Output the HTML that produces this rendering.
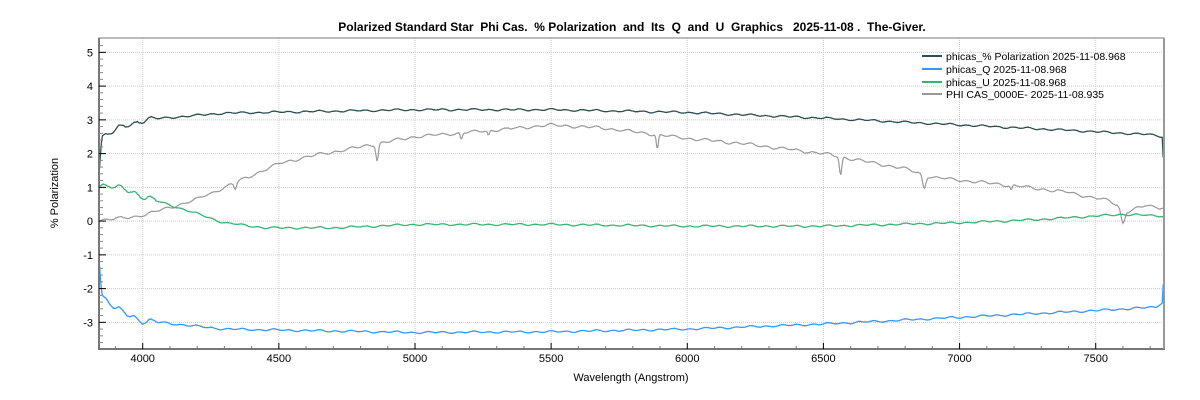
<!DOCTYPE html>
<html><head><meta charset="utf-8"><style>
html,body{margin:0;padding:0;background:#fff;width:1200px;height:400px;overflow:hidden}
svg{display:block;font-family:"Liberation Sans",sans-serif}
</style></head><body>
<svg id="s" width="1200" height="400" viewBox="0 0 1200 400">
<rect width="1200" height="400" fill="#fff"/>
<text x="632" y="31" font-size="12" font-weight="bold" text-anchor="middle" fill="#000" xml:space="preserve" style="white-space:pre">Polarized Standard Star  Phi Cas.  % Polarization  and  Its  Q  and  U  Graphics   2025-11-08 .  The-Giver.</text>
<g id="grid"></g>
<g id="series"></g>
<rect x="99" y="38" width="1065" height="310.5" fill="none" stroke="#777" stroke-width="1"/>
<line x1="99" y1="38" x2="99" y2="349" stroke="#777" stroke-width="2"/>
<line x1="98" y1="349" x2="1165" y2="349" stroke="#777" stroke-width="2"/>
<line x1="1164" y1="38" x2="1164" y2="349" stroke="#999" stroke-width="2"/>
<g id="ticks"></g>
<text x="58" y="193" font-size="11" text-anchor="middle" transform="rotate(-90 58 193)" fill="#000">% Polarization</text>
<text x="631" y="381" font-size="11" text-anchor="middle" fill="#000">Wavelength (Angstrom)</text>
<g font-size="10.5" fill="#000" style="white-space:pre">
<line x1="922" y1="56" x2="942" y2="56" stroke="#2f4f4f" stroke-width="2"/><text x="946" y="60">phicas_% Polarization  2025-11-08.968</text>
<line x1="922" y1="69" x2="942" y2="69" stroke="#3399ff" stroke-width="2"/><text x="946" y="73">phicas_Q  2025-11-08.968</text>
<line x1="922" y1="82" x2="942" y2="82" stroke="#3cb371" stroke-width="2"/><text x="946" y="86">phicas_U  2025-11-08.968</text>
<line x1="922" y1="94" x2="942" y2="94" stroke="#999" stroke-width="2"/><text x="946" y="98">PHI CAS_0000E-  2025-11-08.935</text>
</g>
</svg>
<script>
var NS="http://www.w3.org/2000/svg";
function X(w){return 142.7+(w-4000)*0.27229;}
function Y(v){return 221.1-33.75*v;}
function el(p,t,a,txt){var e=document.createElementNS(NS,t);for(var k in a)e.setAttribute(k,a[k]);if(txt!=null)e.textContent=txt;document.getElementById(p).appendChild(e);}
for(var w=4000;w<=7500;w+=500){var x=X(w);el("grid","line",{x1:x,y1:38,x2:x,y2:348,stroke:"#ccc","stroke-dasharray":"1,1"});
 el("ticks","line",{x1:x,y1:343,x2:x,y2:349,stroke:"#000"});el("ticks","text",{x:x,y:362,"font-size":"11","text-anchor":"middle"},String(w));}
for(var w=3900;w<=7700;w+=100){if(w%500)el("ticks","line",{x1:X(w),y1:346,x2:X(w),y2:349,stroke:"#777"});}
for(var v=-3;v<=5;v++){var y=Y(v);el("grid","line",{x1:99,y1:y,x2:1164,y2:y,stroke:"#ccc","stroke-dasharray":"1,1"});
 el("ticks","line",{x1:99,y1:y,x2:106,y2:y,stroke:"#000"});el("ticks","text",{x:93,y:y+4,"font-size":"11","text-anchor":"end"},String(v));}
for(var v=-3.6;v<=5.4;v+=0.2){if(Math.abs(v-Math.round(v))>0.05)el("ticks","line",{x1:99,y1:Y(v),x2:103,y2:Y(v),stroke:"#888"});}
function interp(pts,w){for(var i=0;i<pts.length-1;i++){if(w<=pts[i+1][0]){var t=(w-pts[i][0])/(pts[i+1][0]-pts[i][0]);return pts[i][1]+t*(pts[i+1][1]-pts[i][1]);}}return pts[pts.length-1][1];}
var seed=7;function rnd(){seed=(seed*16807)%2147483647;return seed/2147483647-0.5;}
function series(pts,amp,col,sw,dips,boost){var d="",n=0;
 for(var w=3840;w<=7750;w+=4){var v=interp(pts,w);var a=amp*(boost&&w<4050?3:1);v+=a*(Math.sin(w/9)+Math.sin(w/23+1)*0.7)+a*0.5*rnd();
  if(dips)dips.forEach(function(q){v-=q[1]*Math.exp(-Math.pow((w-q[0])/q[2],2));});
  d+=(n++?"L":"M")+X(w).toFixed(1)+","+Y(v).toFixed(1);}
 el("series","path",{d:d,fill:"none",stroke:col,"stroke-width":sw});}
series([[3840,0.03],[3950,0.1],[4000,0.18],[4100,0.4],[4200,0.65],[4300,1.0],[4400,1.35],[4500,1.7],[4600,1.9],[4800,2.2],[5000,2.5],[5300,2.7],[5500,2.85],[5700,2.75],[6000,2.45],[6200,2.3],[6500,2.0],[6800,1.55],[6900,1.3],[7200,1.05],[7400,0.85],[7550,0.6],[7620,0.3],[7680,0.45],[7750,0.4]],0.03,"#999",1.2,
 [[4861,0.5,6],[5890,0.45,5],[6563,0.55,6],[6870,0.4,8],[7600,0.45,10],[5170,0.2,5],[5270,0.15,5],[4340,0.2,6],[7190,0.15,5]],false);
series([[3840,1.1],[3950,0.9],[4050,0.6],[4150,0.35],[4300,-0.05],[4450,-0.2],[4700,-0.2],[5000,-0.1],[5500,-0.1],[6000,-0.15],[6500,-0.15],[7000,-0.05],[7300,0.05],[7600,0.2],[7750,0.15]],0.02,"#3cb371",1.3,null,true);
series([[3840,-1.1],[3850,-2.2],[3900,-2.6],[4000,-2.95],[4300,-3.2],[5000,-3.3],[5500,-3.28],[6000,-3.2],[6500,-3.05],[7000,-2.85],[7500,-2.65],[7720,-2.55],[7745,-2.4],[7750,-1.5]],0.02,"#3399ff",1.3,null,true);
series([[3840,1.5],[3850,2.5],[3900,2.7],[4000,3.0],[4300,3.2],[5000,3.3],[5500,3.3],[6000,3.22],[6500,3.05],[7000,2.85],[7500,2.65],[7720,2.55],[7745,2.5],[7750,1.5]],0.02,"#2f4f4f",1.3,null,true);
</script>
</body></html>
